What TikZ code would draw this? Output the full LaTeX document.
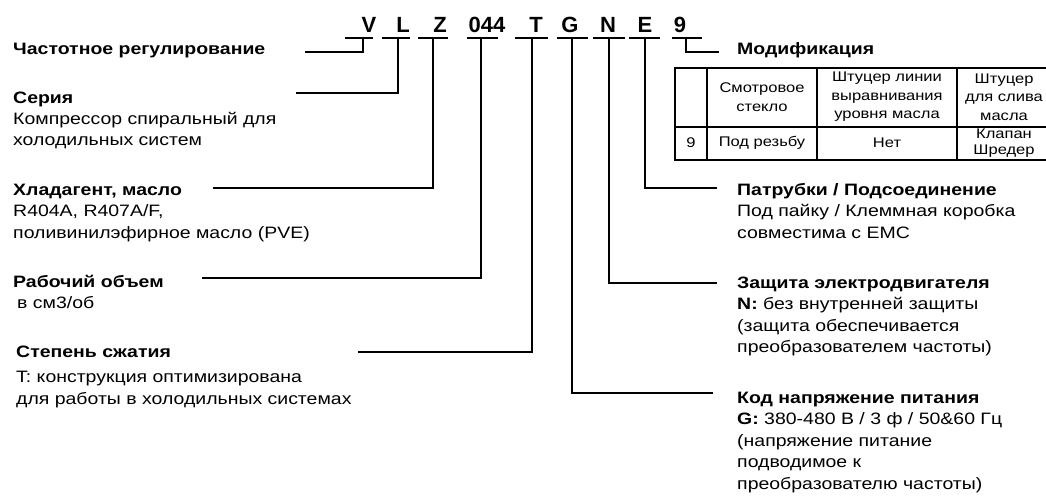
\documentclass[tikz,border=0pt]{standalone}
\usepackage{fontspec}
\setmainfont{Liberation Sans}
\newfontfamily\widesans[FakeStretch=1.18]{Liberation Sans}
\usetikzlibrary{positioning}

\begin{document}
\begin{tikzpicture}[x=1pt,y=-1pt,
  code/.style={font=\fontsize{22}{22}\selectfont\bfseries,inner sep=0,anchor=base,text depth=5pt},
  lbl/.style={font=\widesans\fontsize{16.5}{21.5}\selectfont,inner sep=0,anchor=base west,align=left},
  cell/.style={font=\widesans\fontsize{14}{18.5}\selectfont,inner sep=0,align=center},
  conn/.style={line width=1.8pt},
  grid/.style={line width=1.2pt}]
\useasboundingbox (0,0) rectangle (1046,500);
\node[code] (cV) at (369,33) {V};
\node[code] (cL) at (403,33) {L};
\node[code] (cZ) at (440,33) {Z};
\node[code] (cDisp) at (487,33) {044};
\node[code] (cT) at (536,33) {T};
\node[code] (cG) at (570,33) {G};
\node[code] (cN) at (608,33) {N};
\node[code] (cE) at (645,33) {E};
\node[code] (cNine) at (680,33) {9};
\draw[conn] ([xshift=-24pt]cV.south) -- ([xshift=4pt]cV.south);
\draw[conn] ([xshift=-21pt]cL.south) -- ([xshift=7pt]cL.south);
\draw[conn] ([xshift=-22pt]cZ.south) -- ([xshift=8pt]cZ.south);
\draw[conn] ([xshift=-20pt]cDisp.south) -- ([xshift=11pt]cDisp.south);
\draw[conn] ([xshift=-21pt]cT.south) -- ([xshift=12pt]cT.south);
\draw[conn] ([xshift=-13pt]cG.south) -- ([xshift=18pt]cG.south);
\draw[conn] ([xshift=-15pt]cN.south) -- ([xshift=17pt]cN.south);
\draw[conn] ([xshift=-16pt]cE.south) -- ([xshift=15pt]cE.south);
\draw[conn] ([xshift=-8pt]cNine.south) -- ([xshift=22pt]cNine.south);
\node[lbl] (lFreq) at (13,55) {\bfseries Частотное регулирование};
\node[lbl] (lSeries) at (13,146) {\textbf{Серия}\\Компрессор спиральный для\\холодильных систем};
\node[lbl] (lRefr) at (13,238) {\textbf{Хладагент, масло}\\R404A, R407A/F,\\поливинилэфирное масло (PVE)};
\node[lbl] (lDisp) at (13,308.5) {\textbf{Рабочий объем}\\\hspace*{4pt}в см3/об};
\node[lbl] (lComp) at (16,404) {\textbf{Степень сжатия}\\[4pt]T: конструкция оптимизирована\\для работы в холодильных системах};
\node[lbl] (lMod) at (737,55) {\bfseries Модификация};
\node[lbl] (lConn) at (737,238) {\textbf{Патрубки / Подсоединение}\\Под пайку / Клеммная коробка\\совместима с EMC};
\node[lbl] (lMotor) at (737,352.5) {\textbf{Защита электродвигателя}\\\textbf{N:} без внутренней защиты\\(защита обеспечивается\\преобразователем частоты)};
\node[lbl] (lVolt) at (737,489) {\textbf{Код напряжение питания}\\\textbf{G:} 380-480 В / 3 ф / 50\&60 Гц\\(напряжение питание\\подводимое к\\преобразователю частоты)};
\coordinate (eFreq) at (305,52);
\coordinate (eSeries) at (296,93);
\coordinate (eRefr) at (213,188);
\coordinate (eDisp) at (202,278);
\coordinate (eComp) at (358,352);
\coordinate (eVolt) at (713,393);
\coordinate (eMotor) at (717,283);
\coordinate (eConn) at (717,188);
\coordinate (eMod) at (719,52);
\draw[conn] ([xshift=-6pt]cV.south) |- (eFreq);
\draw[conn] ([xshift=-5pt]cL.south) |- (eSeries);
\draw[conn] ([xshift=-7pt]cZ.south) |- (eRefr);
\draw[conn] ([xshift=-6pt]cDisp.south) |- (eDisp);
\draw[conn] ([xshift=-4pt]cT.south) |- (eComp);
\draw[conn] ([xshift=2pt]cG.south) |- (eVolt);
\draw[conn] ([xshift=1pt]cN.south) |- (eMotor);
\draw[conn] (cE.south) |- (eConn);
\draw[conn] ([xshift=6pt]cNine.south) |- (eMod);
\draw[grid] (675,68) rectangle (1051,160);
\draw[grid] (675,127) -- (1051,127);
\draw[grid] (707,68) -- (707,160);
\draw[grid] (817,68) -- (817,160);
\draw[grid] (957,68) -- (957,160);
\node[cell] (hGlass) at (762,97) {Смотровое\\стекло};
\node[cell] (hLevel) at (887,97) {Штуцер линии\\выравнивания\\уровня масла};
\node[cell] (hDrain) at (1004,97) {Штуцер\\для слива\\масла};
\node[cell] (rNum) at (691,143) {9};
\node[cell] (rGlass) at (762,143) {Под резьбу};
\node[cell] (rLevel) at (887,143) {Нет};
\node[cell,font=\widesans\fontsize{14}{15.5}\selectfont] (rDrain) at (1004,143) {Клапан\\Шредер};
\end{tikzpicture}
\end{document}
